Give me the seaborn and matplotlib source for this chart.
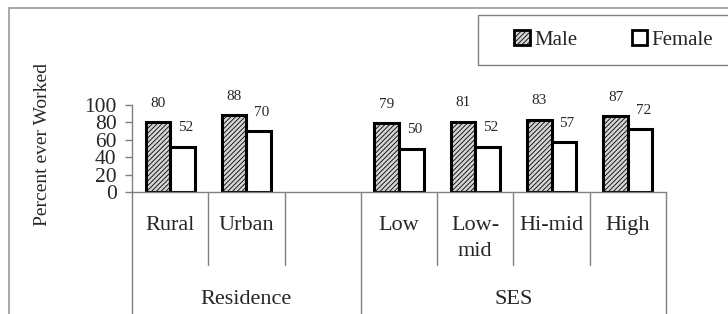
import pandas as pd
import numpy as np
import seaborn as sns
import matplotlib.pyplot as plt
from matplotlib.patches import Rectangle
from matplotlib.lines import Line2D

categories = ["Rural", "Urban", "Low", "Low-\nmid", "Hi-mid", "High"]
order = ["Rural", "Urban", " ", "Low", "Low-\nmid", "Hi-mid", "High"]
male = [80, 88, 79, 81, 83, 87]
female = [52, 70, 50, 52, 57, 72]
groups = ["Residence", "SES"]

df = pd.DataFrame({
    "cat": categories * 2,
    "sex": ["Male"] * len(categories) + ["Female"] * len(categories),
    "val": male + female,
})

sns.set_style("white")
plt.rcParams["font.family"] = ["Liberation Serif", "DejaVu Serif"]
plt.rcParams["hatch.linewidth"] = 0.6
plt.rcParams["hatch.color"] = "#444444"

fig = plt.figure(figsize=(7.28, 3.14), dpi=100)
ax = fig.add_axes([132 / 728, 122 / 314, 534 / 728, 87 / 314])

sns.barplot(data=df, x="cat", y="val", hue="sex", order=order,
            hue_order=["Male", "Female"], palette=["#d4d4d4", "white"],
            width=0.645, gap=0, edgecolor="black", linewidth=2.2,
            saturation=1, ax=ax, legend=False)

for bar in ax.containers[0]:
    bar.set_hatch("///////")

# value labels above bars
for cont, offx in zip(ax.containers, [0, 3]):
    for bar in cont:
        h = bar.get_height()
        if np.isnan(h):
            continue
        ax.annotate(f"{h:.0f}", (bar.get_x() + bar.get_width() / 2, h),
                    xytext=(offx * 0.72, 9), textcoords="offset points",
                    ha="center", va="bottom", fontsize=11, annotation_clip=False)

ax.set_ylim(0, 100)
ax.set_xlim(-0.5, 6.5)
ax.set_yticks(range(0, 101, 20))
ax.tick_params(axis="y", labelsize=15.5, length=5, width=1, color="#808080",
               pad=6, left=True)
ax.tick_params(axis="x", labelsize=16, length=0, pad=17.5)
ax.set_xlabel("")
ax.set_ylabel("")
for s in ["top", "right"]:
    ax.spines[s].set_visible(False)
for s in ["left", "bottom"]:
    ax.spines[s].set_color("#808080")
    ax.spines[s].set_linewidth(1)
for lab in ax.get_xticklabels():
    lab.set_linespacing(1.5)

# category dividers below the axis
tr = ax.get_xaxis_transform()
for x in [0.5, 1.5, 3.5, 4.5, 5.5]:
    ax.add_line(Line2D([x, x], [0, -0.84], transform=tr, color="#808080",
                       lw=1, clip_on=False))
for x in [-0.5, 2.5, 6.5]:
    ax.add_line(Line2D([x, x], [0, -1.5], transform=tr, color="#808080",
                       lw=1, clip_on=False))

for g, xc in zip(groups, [1.0, 4.5]):
    ax.text(xc, -1.23, g, transform=tr, ha="center", va="center", fontsize=16)

fig.text(43 / 728, 1 - 145 / 314, "Percent ever Worked", rotation=90,
         ha="center", va="center", fontsize=14)

# outer frame and legend box
fig.add_artist(Rectangle((9 / 728, -0.1), 1.0, 1 - 8 / 314 + 0.1,
                         transform=fig.transFigure, fill=False,
                         edgecolor="#999999", lw=1.2))
fig.add_artist(Rectangle((478 / 728, 1 - 65 / 314), 0.5, 50 / 314,
                         transform=fig.transFigure, fill=False,
                         edgecolor="#808080", lw=1))

handles = [Rectangle((0, 0), 1, 1, facecolor="#d4d4d4", hatch="///////",
                     edgecolor="black", lw=2),
           Rectangle((0, 0), 1, 1, facecolor="white", edgecolor="black", lw=2)]
fig.legend(handles, ["Male", "Female"], loc="center left",
           bbox_to_anchor=(504 / 728, 1 - 40 / 314), ncol=2, frameon=False,
           fontsize=15, handlelength=0.75, handleheight=0.75,
           handletextpad=0.2, columnspacing=2.6, borderpad=0)

fig.savefig("out.png", dpi=100)
